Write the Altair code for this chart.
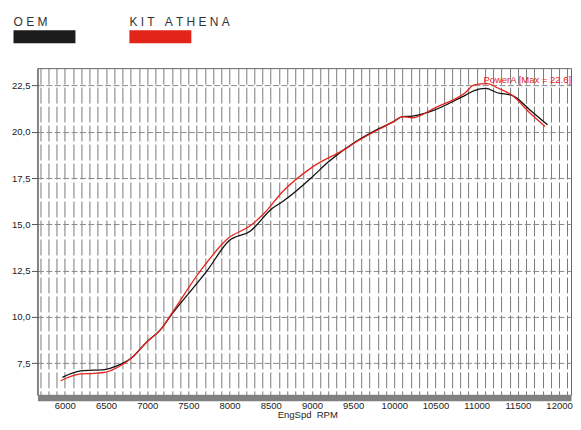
import altair as alt
import pandas as pd

# ---- data ----
series_names = ["OEM", "KIT ATHENA"]
header_labels = ["O\u00a0E\u00a0M", "K\u00a0I\u00a0T\u00a0\u00a0\u00a0A\u00a0T\u00a0H\u00a0E\u00a0N\u00a0A"]
series_colors = ["#111111", "#e8231c"]
bar_colors = ["#1c1c1c", "#e3241b"]

rpm_oem = [5970, 6190, 6350, 6500, 6625, 6820, 6980, 7180, 7280, 7730, 7990, 8250, 8520,
           8640, 9000, 9190, 9510, 9750, 9990, 10100, 10220, 10460, 10780, 10860, 10970,
           11110, 11250, 11430, 11650, 11860]
power_oem = [6.73, 7.08, 7.12, 7.17, 7.34, 7.82, 8.58, 9.41, 10.03, 12.51, 14.10, 14.63, 15.87,
             16.22, 17.55, 18.34, 19.40, 20.02, 20.55, 20.82, 20.85, 21.13, 21.79, 21.97, 22.23,
             22.35, 22.11, 21.97, 21.17, 20.38]

rpm_kit = [5950, 6190, 6350, 6500, 6660, 6820, 6980, 7180, 7300, 7650, 7990, 8250, 8420,
           8640, 9000, 9390, 9550, 9990, 10100, 10220, 10500, 10860, 10970, 11130, 11250,
           11430, 11650, 11830]
power_kit = [6.55, 6.92, 6.95, 7.02, 7.32, 7.82, 8.58, 9.41, 10.20, 12.51, 14.27, 14.92, 15.60,
             16.75, 18.08, 19.04, 19.49, 20.55, 20.82, 20.76, 21.31, 22.11, 22.53, 22.60, 22.38,
             21.97, 21.00, 20.29]

y_ticks = [7.5, 10.0, 12.5, 15.0, 17.5, 20.0, 22.5]
x_grid_ticks = list(range(5700, 12101, 100))
x_title = "EngSpd\u00a0 RPM"
annot_name = "PowerA"

df = pd.concat([
    pd.DataFrame({"rpm": rpm_oem, "power": power_oem, "series": series_names[0]}),
    pd.DataFrame({"rpm": rpm_kit, "power": power_kit, "series": series_names[1]}),
], ignore_index=True)

imax = max(range(len(power_kit)), key=lambda i: power_kit[i])
annot = pd.DataFrame({
    "rpm": [rpm_kit[imax]],
    "power": [power_kit[imax]],
    "label": [f"{annot_name} [Max = {power_kit[imax]:.1f}]"],
})

FONT = "Liberation Sans"

x_scale = alt.Scale(domain=[5668, 12145], nice=False, zero=False)
y_scale = alt.Scale(domain=[5.79, 23.44], nice=False, zero=False)

x_axis = alt.Axis(
    values=x_grid_ticks,
    tickCount=len(x_grid_ticks),
    format="d",
    labelExpr="datum.value % 500 == 0 ? datum.label : ''",
    labelOverlap=False,
    labelFontSize=9.5,
    labelColor="#222",
    labelPadding=2.5,
    ticks=False,
    domainColor="#808080",
    domainWidth=6,
    offset=3,
    grid=True,
    gridColor="#7a7a7a",
    gridWidth=1,
    gridDash=[16, 3],
    title=x_title,
    titleFontSize=9.5,
    titleFontWeight="normal",
    titleColor="#222",
    titlePadding=0,
    titleX=270,
)

y_axis = alt.Axis(
    values=y_ticks,
    labelExpr="replace(format(datum.value, '.1f'), '.', ',')",
    labelFontSize=9.5,
    labelColor="#222",
    labelPadding=1.5,
    tickSize=6,
    tickColor="#555",
    domainColor="#555",
    grid=True,
    gridColor="#8a8a8a",
    gridWidth=1,
    gridDash=[6, 2.4],
    title=None,
)

lines = alt.Chart(df).mark_line(interpolate="monotone", strokeWidth=1.3).encode(
    x=alt.X("rpm:Q", scale=x_scale, axis=x_axis),
    y=alt.Y("power:Q", scale=y_scale, axis=y_axis),
    color=alt.Color("series:N", scale=alt.Scale(domain=series_names, range=series_colors), legend=None),
)

annot_text = alt.Chart(annot).mark_text(
    align="left", baseline="alphabetic", dx=-4, dy=-1, fontSize=9.5, font=FONT,
    color="#e8231c", clip=True
).encode(
    x=alt.X("rpm:Q", scale=x_scale),
    y=alt.Y("power:Q", scale=y_scale),
    text="label:N",
)

main = alt.layer(lines, annot_text).properties(
    width=534, height=327,
    view=alt.ViewBackground(stroke="#666666", strokeWidth=1),
)

hdr = pd.DataFrame({"series": series_names, "label": header_labels, "bar": bar_colors})
hx = alt.X("series:N", scale=alt.Scale(type="point", domain=series_names, range=[7, 123], padding=0), axis=None)

bars = alt.Chart(hdr).mark_point(
    shape="M-1,-0.21L1,-0.21L1,0.21L-1,0.21Z", filled=True, size=3844, opacity=1
).encode(x=hx, color=alt.Color("bar:N", scale=None))

texts = alt.Chart(hdr).mark_text(
    align="left", baseline="alphabetic", dx=-31, dy=-11, fontSize=12, font=FONT, color="#333333"
).encode(x=hx, text="label:N")

header = alt.layer(bars, texts).properties(
    width=534, height=57,
    view=alt.ViewBackground(fill="#ffffff", strokeWidth=0),
)

chart = alt.vconcat(
    header, main, spacing=2,
    padding={"left": 2.5, "top": 0, "right": 0, "bottom": 0},
).configure(
    font=FONT,
).configure_axis(
    labelFont=FONT, titleFont=FONT,
)

chart.save("out.html", embed_options={"renderer": "svg", "actions": False})
